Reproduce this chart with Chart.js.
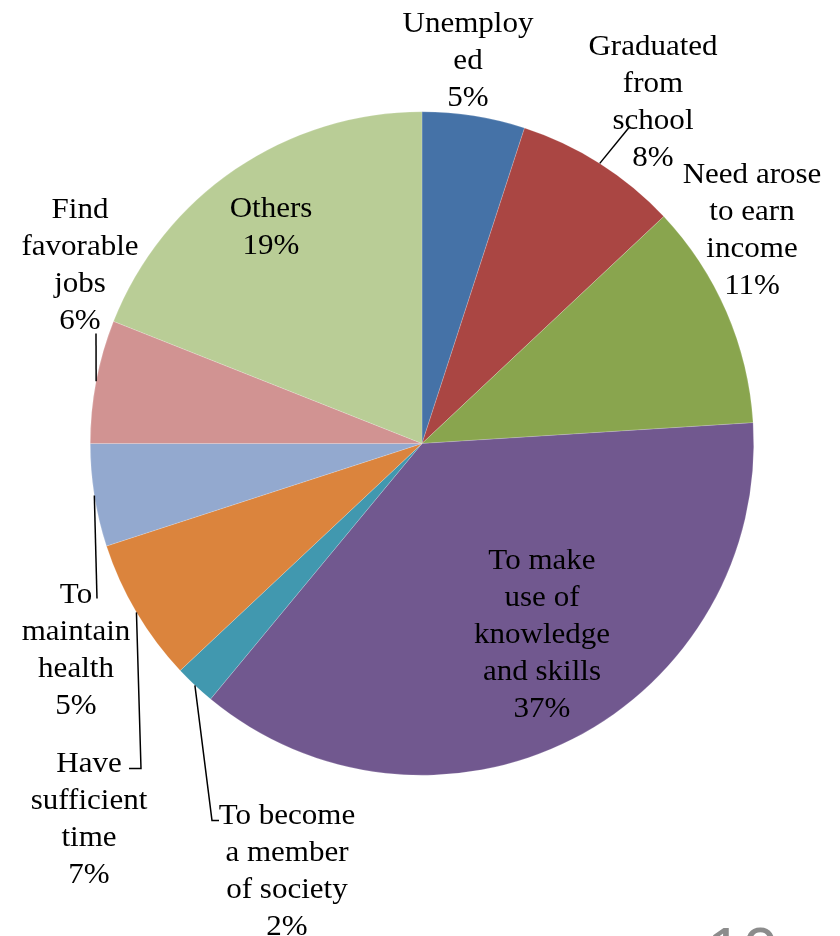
<!DOCTYPE html>
<html>
<head>
<meta charset="utf-8">
<script src="https://cdn.jsdelivr.net/npm/chart.js@4/dist/chart.umd.min.js"></script>
<style>
    html, body { margin: 0; padding: 0; background: #fff; }
    canvas { display: block; }
</style>
</head>
<body>
<canvas id="graficoMotivos" width="840" height="936"></canvas>
<script>
// Datos del gráfico: motivos y porcentajes
const motivos = [
    ['Unemploy', 'ed'],
    ['Graduated', 'from', 'school'],
    ['Need arose', 'to earn', 'income'],
    ['To make', 'use of', 'knowledge', 'and skills'],
    ['To become', 'a member', 'of society'],
    ['Have', 'sufficient', 'time'],
    ['To', 'maintain', 'health'],
    ['Find', 'favorable', 'jobs'],
    ['Others']
];
const porcentajes = [5, 8, 11, 37, 2, 7, 5, 6, 19];
const colores = ['#4572A7', '#AA4643', '#89A54E', '#71588F', '#4198AF', '#DB843D', '#93A9CF', '#D19392', '#B9CD96'];

// Posición de la primera línea de cada etiqueta (desplazamiento desde el centro del pastel)
const posicionEtiquetas = [
    [46, -412], [231, -389], [330, -261], [120, 125], [-135, 380],
    [-333, 328], [-346, 159], [-342, -226], [-151, -227]
];
// Líneas guía: parten del borde del sector y pasan por estos puntos
const lineasGuia = [
    null,
    [[207, -316]],
    null,
    null,
    [[-210, 377], [-203, 377]],
    [[-281, 325], [-293, 325]],
    [[-325, 155]],
    [[-326, -110]],
    null
];
const interlineado = 37;

const contexto = document.getElementById('graficoMotivos');

const pluginEtiquetas = {
    id: 'etiquetas',
    afterDatasetsDraw(chart) {
        const ctx = chart.ctx;
        const arcos = chart.getDatasetMeta(0).data;
        ctx.save();
        arcos.forEach((arco, i) => {
            const { x, y, startAngle, endAngle, outerRadius } =
                arco.getProps(['x', 'y', 'startAngle', 'endAngle', 'outerRadius'], true);
            const medio = (startAngle + endAngle) / 2;

            if (lineasGuia[i]) {
                ctx.beginPath();
                ctx.moveTo(x + Math.cos(medio) * outerRadius, y + Math.sin(medio) * outerRadius);
                lineasGuia[i].forEach(p => ctx.lineTo(x + p[0], y + p[1]));
                ctx.strokeStyle = '#000';
                ctx.lineWidth = 1.5;
                ctx.stroke();
            }

            const lineas = motivos[i].concat([porcentajes[i] + '%']);
            const [dx, dy] = posicionEtiquetas[i];
            ctx.font = '29px "Liberation Serif", "Times New Roman", serif';
            ctx.fillStyle = '#000';
            ctx.textAlign = 'center';
            ctx.textBaseline = 'alphabetic';
            lineas.forEach((texto, k) => {
                ctx.save();
                ctx.translate(x + dx, y + dy + k * interlineado);
                ctx.scale(1.07, 1);
                ctx.fillText(texto, 0, 0);
                ctx.restore();
            });
        });

        // Número de diapositiva cortado en la esquina
        ctx.font = '64px "Liberation Sans", sans-serif';
        ctx.fillStyle = '#8c8c8c';
        ctx.textAlign = 'left';
        ctx.fillText('10', 707, 973);
        ctx.restore();
    }
};

window.miGrafico = new Chart(contexto, {
    type: 'pie',
    data: {
        labels: motivos.map(m => m.join(' ')),
        datasets: [{
            data: porcentajes,
            backgroundColor: colores,
            borderColor: 'rgba(255,255,255,0.35)',
            borderWidth: 0.5
        }]
    },
    options: {
        responsive: false,
        animation: false,
        layout: {
            padding: { left: 90, right: 86, top: 111, bottom: 160 }
        },
        plugins: {
            legend: { display: false },
            tooltip: { enabled: false }
        }
    },
    plugins: [pluginEtiquetas]
});
</script>
</body>
</html>
